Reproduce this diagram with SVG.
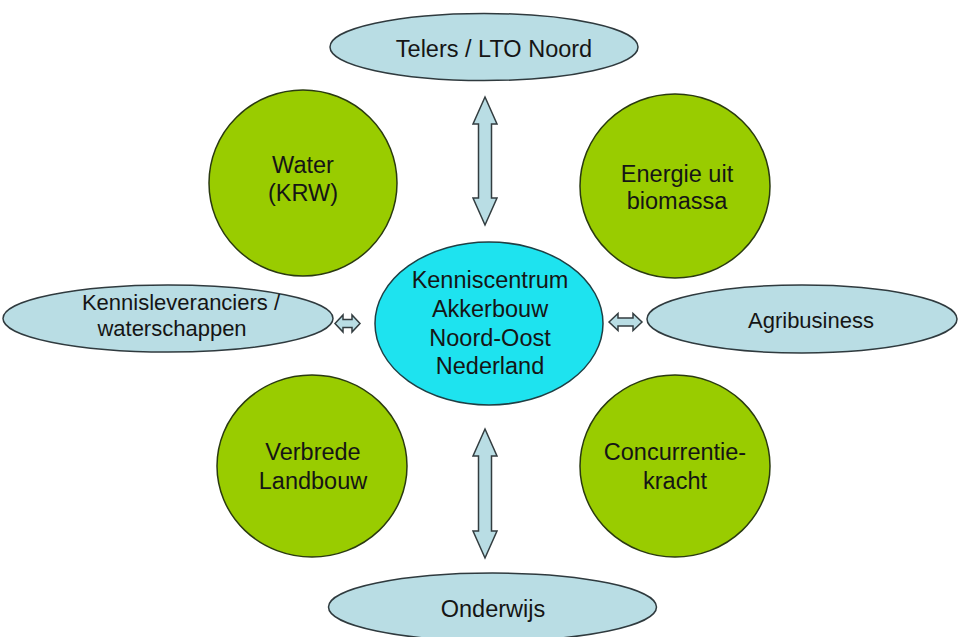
<svg xmlns="http://www.w3.org/2000/svg" width="959" height="637" viewBox="0 0 959 637">
<style>
.bg{fill:#ffffff}
.green{fill:#99CC00;stroke:#2a3a10;stroke-width:1.5}
.blue{fill:#B9DDE4;stroke:#2f3a3e;stroke-width:1.5}
.center{fill:#1EE3EF;stroke:#1f3f44;stroke-width:1.5}
.arrow{fill:#B9DDE4;stroke:#333d40;stroke-width:1.5;stroke-linejoin:miter}
text{font-family:"Liberation Sans",Arial,sans-serif;font-size:23.5px;fill:#151515;text-anchor:middle}
</style>
<rect class="bg" x="0" y="0" width="959" height="637"/>
<g id="connectors">
<path class="arrow" d="M485,97 L497,124 L491.5,124 L491.5,198 L497,198 L485,225 L473,198 L478.5,198 L478.5,124 L473,124 Z"/>
<path class="arrow" d="M485,429 L497,456 L491.5,456 L491.5,531 L497,531 L485,558 L473,531 L478.5,531 L478.5,456 L473,456 Z"/>
<path class="arrow" d="M335,323.5 L343,315 L343,319.5 L352,319.5 L352,315 L360,323.5 L352,332 L352,327.5 L343,327.5 L343,332 Z"/>
<path class="arrow" d="M609,322 L618,313.5 L618,318 L633,318 L633,313.5 L642,322 L633,330.5 L633,326 L618,326 L618,330.5 Z"/>
</g>
<g id="telers">
<ellipse class="blue" cx="484" cy="47" rx="154" ry="33.5"/>
<text x="494" y="57">Telers / LTO Noord</text>
</g>
<g id="water">
<ellipse class="green" cx="303" cy="183" rx="94" ry="93"/>
<text x="303" y="173">Water</text>
<text x="303" y="201">(KRW)</text>
</g>
<g id="energie">
<ellipse class="green" cx="675" cy="186" rx="95" ry="92"/>
<text x="677" y="182">Energie uit</text>
<text x="677" y="209">biomassa</text>
</g>
<g id="kennisleveranciers">
<ellipse class="blue" cx="168" cy="318.5" rx="165" ry="33.5"/>
<text x="181" y="310" style="font-size:22px">Kennisleveranciers /</text>
<text x="172" y="336" style="font-size:22px">waterschappen</text>
</g>
<g id="kenniscentrum">
<ellipse class="center" cx="489" cy="323.5" rx="114" ry="81.5"/>
<text x="490" y="288">Kenniscentrum</text>
<text x="490" y="317">Akkerbouw</text>
<text x="490" y="346">Noord-Oost</text>
<text x="490" y="374">Nederland</text>
</g>
<g id="agribusiness">
<ellipse class="blue" cx="802" cy="319" rx="155" ry="34"/>
<text x="811" y="328" style="font-size:22px">Agribusiness</text>
</g>
<g id="verbrede">
<ellipse class="green" cx="312" cy="466" rx="95" ry="91"/>
<text x="313" y="460">Verbrede</text>
<text x="313" y="489">Landbouw</text>
</g>
<g id="concurrentie">
<ellipse class="green" cx="675" cy="466" rx="95" ry="91"/>
<text x="675" y="460">Concurrentie-</text>
<text x="675" y="489">kracht</text>
</g>
<g id="onderwijs">
<ellipse class="blue" cx="492.5" cy="607" rx="164" ry="34"/>
<text x="493" y="617">Onderwijs</text>
</g>
</svg>
